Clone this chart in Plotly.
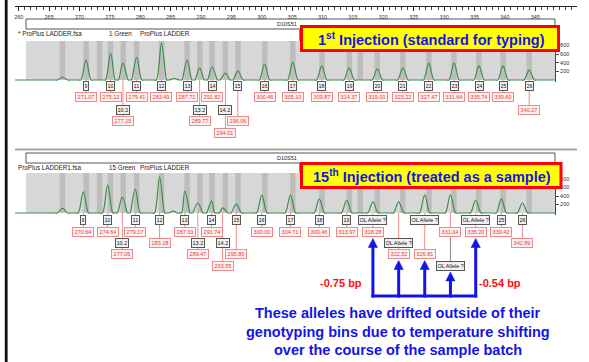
import plotly.graph_objects as go

# ------------------------------------------------------------------ data
bin_bp = [267.2, 271.1, 273.3, 275.1, 277.2, 279.4, 283.5, 287.7, 289.8, 291.8, 294.0, 296.1,
          300.5, 305.1, 309.9, 314.4, 316.2, 319.0, 323.2, 327.5, 331.6, 335.7, 339.7, 344.0]

ruler_labels = [260, 265, 270, 275, 280, 285, 290, 295, 300, 305, 310, 315, 320, 325, 330, 335,
                340, 345]

trace_start_bp = 259.4
trace_end_bp = 348.2

top_alleles = ["9", "10", "10.2", "11", "12", "13", "13.2", "14", "14.2", "15", "16", "17",
               "18", "19", "20", "21", "22", "23", "24", "25", "26"]
top_peak_bp = [271.07, 275.12, 277.15, 279.41, 283.49, 287.71, 289.77, 291.82, 294.01, 296.06,
               300.46, 305.10, 309.87, 314.37, 319.00, 323.22, 327.47, 331.64, 335.74, 339.69, 344.00]
top_calls = ["271.07", "275.12", "277.15", "279.41", "283.49", "287.71", "289.77", "291.82",
             "294.01", "296.06", "300.46", "305.10", "309.87", "314.37", "319.00", "323.22",
             "327.47", "331.64", "335.74", "339.69", "340.27"]
top_heights = [460, 620, 390, 530, 850, 460, 280, 300, 160, 210, 370, 415, 325, 280, 255, 280,
               390, 390, 325, 325, 230]
top_small_bp = [267.2, 285.6]
top_small_h = [60, 35]

bot_alleles = ["9", "10", "10.2", "11", "12", "13", "13.2", "14", "14.2", "15", "16", "17",
               "18", "19", "OL Allele ?", "OL Allele ?", "OL Allele ?", "OL Allele ?",
               "OL Allele ?", "25", "26"]
bot_sizes = [270.64, 274.64, 277.05, 279.17, 283.18, 287.33, 289.47, 291.74, 293.55, 295.80,
             300.00, 304.71, 309.46, 313.97, 318.28, 322.52, 326.81, 331.04, 335.20, 339.42, 342.89]
bot_heights = [495, 660, 375, 565, 850, 515, 235, 280, 120, 210, 420, 420, 330, 305, 260, 260,
               425, 425, 305, 330, 235]
bot_small_bp = [267.2, 285.5]
bot_small_h = [110, 45]

rfu_ticks = [200, 400, 600, 800]
locus_name = "D10S51"
top_info = ["* ProPlus LADDER.fsa", "1 Green", "ProPlus LADDER"]
bot_info = ["ProPlus LADDER1.fsa", "15 Green", "ProPlus LADDER"]
top_title = "1<sup>st</sup> Injection (standard for typing)"
bot_title = "15<sup>th</sup> Injection (treated as a sample)"
shift_left = "-0.75 bp"
shift_right = "-0.54 bp"
note_lines = ["These alleles have drifted outside of their",
              "genotyping bins due to temperature shifting",
              "over the course of the sample batch"]

# ------------------------------------------------------------------ layout constants
W, H = 589, 362
FONT = "Liberation Sans, Arial, sans-serif"
PX_PER_BP = 6.077
REF_BP, REF_PX = 271.07, 86.0
X_RANGE = [REF_BP - REF_PX / PX_PER_BP, REF_BP + (W - REF_PX) / PX_PER_BP]
BLUE = "#1414e6"


def py(p):
    return 1 - p / H


def pxx(p):
    return p / W


panels = {
    "top": dict(base=80, top=41, k=0.0433, locus=(19, 29), info=34, rows=[86, 97, 110, 121, 133],
                axis="y"),
    "bot": dict(base=213, top=173, k=0.0425, locus=(153, 163), info=168,
                rows=[220, 232, 243, 254, 265.5], axis="y2"),
}
top_place = [(0, 1), (0, 1), (2, 3), (0, 1), (0, 1), (0, 1), (2, 3), (0, 1), (2, 4), (0, 3)] \
    + [(0, 1)] * 10 + [(0, 2)]
bot_place = [(0, 1), (0, 1), (2, 3), (0, 1), (0, 2), (0, 1), (2, 3), (0, 1), (2, 4), (0, 3),
             (0, 1), (0, 1), (0, 1), (0, 1), (0, 1), (2, 3), (0, 3), (4, 1), (0, 1), (0, 1), (0, 2)]

PEAK_IN, PEAK_OUT = 0.85, 1.3


def trace_xy(peaks, heights, small_bp, small_h):
    pts = {round(trace_start_bp, 3): 0.0, round(trace_end_bp, 3): 0.0}
    for b, h in zip(list(peaks) + list(small_bp), list(heights) + list(small_h)):
        for d in (-PEAK_OUT, -PEAK_IN, PEAK_IN, PEAK_OUT):
            pts.setdefault(round(b + d, 3), 0.0)
        pts[round(b, 3)] = float(h)
    xs = sorted(pts)
    return xs, [pts[x] for x in xs]


fig = go.Figure()
shapes = []
annotations = []

for key, peaks, heights, sb, sh in (("top", top_peak_bp, top_heights, top_small_bp, top_small_h),
                                    ("bot", bot_sizes, bot_heights, bot_small_bp, bot_small_h)):
    P = panels[key]
    xs, ys = trace_xy(peaks, heights, sb, sh)
    fig.add_trace(go.Scatter(x=xs, y=ys, mode="lines", xaxis="x", yaxis=P["axis"],
                             line=dict(color="#3d8f4a", width=1.2, shape="spline", smoothing=1.0),
                             hoverinfo="skip", showlegend=False))
    # gray analysis region and bins
    shapes.append(dict(type="rect", xref="paper", yref="paper", x0=pxx(26), x1=pxx(555),
                       y0=py(P["base"]), y1=py(P["top"]), fillcolor="#d7d7d7", line_width=0,
                       layer="below"))
    for b in bin_bp:
        shapes.append(dict(type="rect", xref="x", yref="paper", x0=b - 0.45, x1=b + 0.45,
                           y0=py(P["base"]), y1=py(P["top"]), fillcolor="#bdbdbd", line_width=0,
                           layer="below"))
    # locus box
    l0, l1 = P["locus"]
    shapes.append(dict(type="rect", xref="paper", yref="paper", x0=pxx(26), x1=pxx(555),
                       y0=py(l1), y1=py(l0), fillcolor="white", line=dict(color="#555", width=1),
                       layer="above"))
    annotations.append(dict(x=pxx(299), y=py((l0 + l1) / 2), xref="paper", yref="paper",
                            text=locus_name, showarrow=False, xanchor="right", yanchor="middle",
                            font=dict(size=5.5, color="#222", family=FONT)))
    shapes.append(dict(type="line", xref="paper", yref="paper", x0=pxx(299.5), x1=pxx(299.5),
                       y0=py(l1), y1=py(P["top"]), line=dict(color="#f05a5a", width=1),
                       layer="above"))
    info = top_info if key == "top" else bot_info
    for txt, xp in zip(info, (16, 107, 138)):
        annotations.append(dict(x=pxx(xp), y=py(P["info"]), xref="paper", yref="paper",
                                text=txt, showarrow=False, xanchor="left", yanchor="middle",
                                font=dict(size=6.3, color="#222", family=FONT)))


# ------------------------------------------------------------------ peak labels
def add_labels(P, xs, names, calls, places):
    rows = P["rows"]
    tips = []
    for x, nm, cl, (rn, rs) in zip(xs, names, calls, places):
        upper = min(rn, rs)
        shapes.append(dict(type="line", xref="x", yref="paper", x0=x, x1=x, y0=py(P["base"]),
                           y1=py(rows[upper]), line=dict(color="#f08a8a", width=1), layer="above"))
        col = "#f08a8a" if rs > rn else "#8c8c8c"
        shapes.append(dict(type="line", xref="x", yref="paper", x0=x, x1=x, y0=py(rows[rn]),
                           y1=py(rows[rs]), line=dict(color=col, width=1), layer="above"))
        annotations.append(dict(x=x, xref="x", y=py(rows[rn]), yref="paper", text=nm,
                                showarrow=False, xanchor="center", yanchor="middle",
                                font=dict(size=5.5, color="#111", family=FONT), height=7,
                                bgcolor="#f1f1f1", bordercolor="#555", borderwidth=1, borderpad=0.5))
        annotations.append(dict(x=x, xref="x", y=py(rows[rs]), yref="paper", text=cl,
                                showarrow=False, xanchor="center", yanchor="middle",
                                font=dict(size=5.5, color="#e03c3c", family=FONT), height=7,
                                width=19, bgcolor="#fff1f1", bordercolor="#f08a8a",
                                borderwidth=1, borderpad=0.5))
        tips.append(rows[max(rn, rs)] + 6.5)
    return tips


add_labels(panels["top"], top_peak_bp, top_alleles, top_calls, top_place)
bot_tips = add_labels(panels["bot"], bot_sizes, bot_alleles, ["%.2f" % s for s in bot_sizes],
                      bot_place)

# ------------------------------------------------------------------ arrows
ol_idx = [i for i, a in enumerate(bot_alleles) if a.startswith("OL")]
BRACKET_Y = 296
HW = 4.6 / PX_PER_BP
for i in ol_idx:
    x = bot_sizes[i]
    tip = bot_tips[i]
    shapes.append(dict(type="line", xref="x", yref="paper", x0=x, x1=x, y0=py(BRACKET_Y + 1.5),
                       y1=py(tip + 8), line=dict(color=BLUE, width=3), layer="above"))
    shapes.append(dict(type="path", xref="x", yref="paper",
                       path=f"M {x - HW},{py(tip + 9)} L {x + HW},{py(tip + 9)} L {x},{py(tip)} Z",
                       fillcolor=BLUE, line=dict(color=BLUE, width=0.5), layer="above"))
shapes.append(dict(type="line", xref="x", yref="paper", x0=bot_sizes[ol_idx[0]] - 0.25,
                   x1=bot_sizes[ol_idx[-1]] + 0.25, y0=py(BRACKET_Y), y1=py(BRACKET_Y),
                   line=dict(color=BLUE, width=3), layer="above"))

annotations.append(dict(x=pxx(364), y=py(283), xref="paper", yref="paper",
                        text=f"<b>{shift_left}</b>", showarrow=False, xanchor="right",
                        yanchor="middle", font=dict(size=11, color="#ff0a0a", family=FONT)))
annotations.append(dict(x=pxx(477), y=py(283), xref="paper", yref="paper",
                        text=f"<b>{shift_right}</b>", showarrow=False, xanchor="left",
                        yanchor="middle", font=dict(size=11, color="#ff0a0a", family=FONT)))
for line, yp in zip(note_lines, (313, 331.5, 350)):
    annotations.append(dict(x=pxx(398), y=py(yp), xref="paper", yref="paper",
                            text=f"<b>{line}</b>", showarrow=False, xanchor="center",
                            yanchor="middle", font=dict(size=14.5, color=BLUE, family=FONT)))

# ------------------------------------------------------------------ title boxes
for (x0, x1, y0, y1), txt in (((300, 560, 25, 52), top_title), ((300, 562.5, 162, 189), bot_title)):
    shapes.append(dict(type="rect", xref="paper", yref="paper", x0=pxx(x0 + 1.5), x1=pxx(x1 - 1.5),
                       y0=py(y1 - 1.5), y1=py(y0 + 1.5), fillcolor="#ffff00",
                       line=dict(color="#ff0000", width=3), layer="above"))
    annotations.append(dict(x=pxx((x0 + x1) / 2 + 1), y=py((y0 + y1) / 2), xref="paper",
                            yref="paper", text=f"<b>{txt}</b>", showarrow=False, xanchor="center",
                            yanchor="middle", font=dict(size=14.5, color=BLUE, family=FONT)))

# ------------------------------------------------------------------ frame decorations
shapes.append(dict(type="rect", xref="paper", yref="paper", x0=pxx(4.8), x1=pxx(7.6), y0=0, y1=1,
                   fillcolor="#111", line_width=0, layer="above"))
shapes.append(dict(type="line", xref="paper", yref="paper", x0=pxx(15), x1=pxx(577), y0=py(149.5),
                   y1=py(149.5), line=dict(color="#a5a5a5", width=2), layer="above"))

# empty trace to carry the ruler axis
fig.add_trace(go.Scatter(x=[], y=[], xaxis="x2", yaxis="y", showlegend=False))


def yaxis_for(P):
    lo = -2 / P["k"]
    hi = (P["base"] - P["top"]) / P["k"]
    return dict(domain=[py(P["base"] + 2), py(P["top"])], range=[lo, hi], anchor="free",
                position=pxx(555), side="right", showline=True, linecolor="#444", linewidth=1,
                ticks="outside", ticklen=3, tickcolor="#444", tickvals=rfu_ticks,
                tickfont=dict(size=5.5, color="#333", family=FONT), showgrid=False,
                zeroline=False, fixedrange=True)


fig.update_layout(
    width=W, height=H, autosize=False, margin=dict(l=0, r=0, t=0, b=0),
    paper_bgcolor="white", plot_bgcolor="rgba(0,0,0,0)", showlegend=False,
    xaxis=dict(domain=[0, 1], range=X_RANGE, visible=False, anchor="free", position=0),
    xaxis2=dict(domain=[pxx(15), pxx(577)],
                range=[REF_BP + (15 - REF_PX) / PX_PER_BP, REF_BP + (577 - REF_PX) / PX_PER_BP],
                anchor="free", position=py(6), side="bottom", showline=True, linecolor="#222",
                linewidth=1, ticks="outside", ticklen=4, tickcolor="#222",
                tickmode="array", tickvals=ruler_labels,
                minor=dict(tick0=260, dtick=1, ticks="outside", ticklen=3, tickcolor="#444"),
                tickfont=dict(size=5.5, color="#333", family=FONT), showgrid=False,
                zeroline=False, ticklabelstandoff=1),
    yaxis=yaxis_for(panels["top"]),
    yaxis2=yaxis_for(panels["bot"]),
    shapes=shapes, annotations=annotations,
)

fig.write_html("out.html")
